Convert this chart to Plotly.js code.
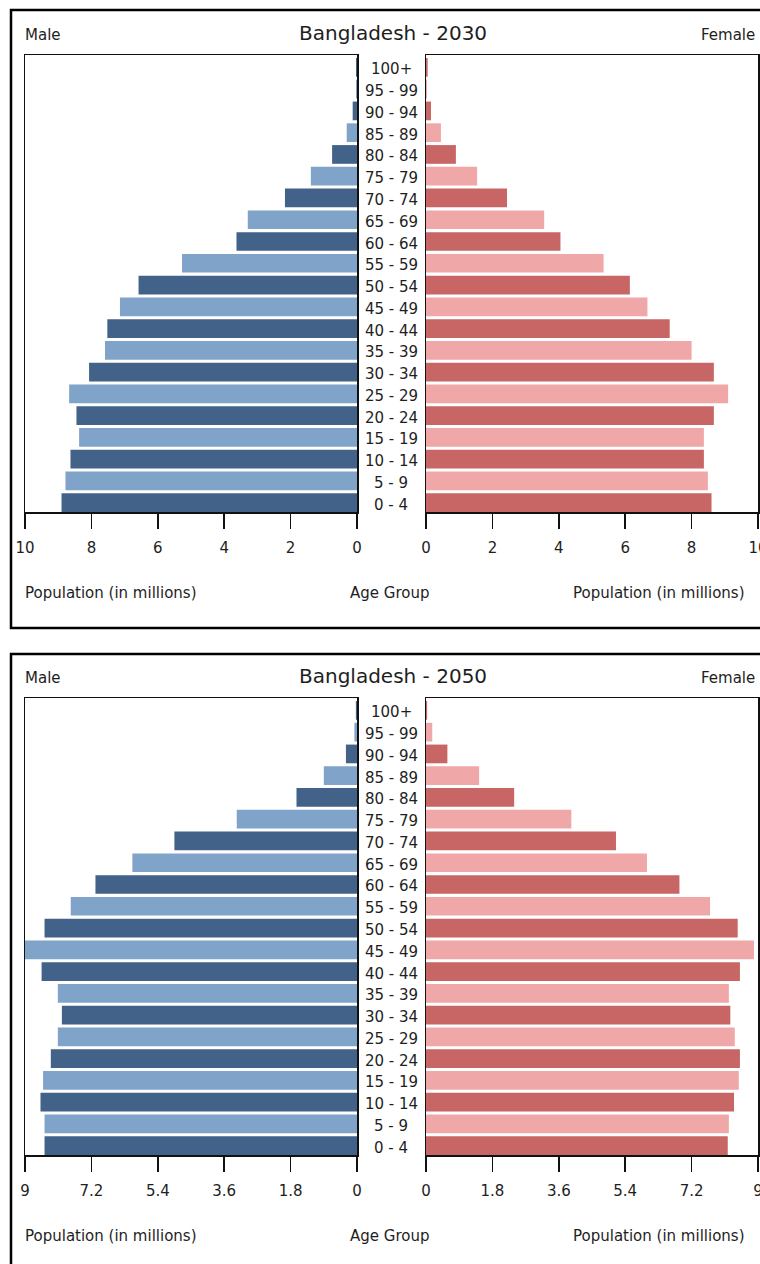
<!DOCTYPE html>
<html>
<head>
<meta charset="utf-8">
<script src="https://cdn.plot.ly/plotly-3.0.1.min.js"></script>
<style>html,body{margin:0;padding:0;background:#fff;}#chart{width:760px;height:1264px;}</style>
</head>
<body>
<div id="chart"></div>
<script>
// ---- Data (population in millions) ----
const ageGroups = ["0 - 4","5 - 9","10 - 14","15 - 19","20 - 24","25 - 29","30 - 34","35 - 39","40 - 44","45 - 49","50 - 54","55 - 59","60 - 64","65 - 69","70 - 74","75 - 79","80 - 84","85 - 89","90 - 94","95 - 99","100+"];
const male2030   = [8.90, 8.78, 8.63, 8.37, 8.45, 8.67, 8.07, 7.59, 7.52, 7.14, 6.58, 5.27, 3.63, 3.29, 2.17, 1.39, 0.75, 0.31, 0.13, 0.03, 0.03];
const female2030 = [8.60, 8.49, 8.37, 8.37, 8.67, 9.10, 8.67, 8.00, 7.34, 6.67, 6.14, 5.35, 4.05, 3.56, 2.44, 1.54, 0.90, 0.45, 0.15, 0.03, 0.05];
const male2050   = [8.47, 8.47, 8.58, 8.51, 8.30, 8.11, 8.00, 8.11, 8.55, 9.00, 8.47, 7.76, 7.09, 6.09, 4.95, 3.26, 1.64, 0.90, 0.30, 0.07, 0.03];
const female2050 = [8.18, 8.21, 8.35, 8.48, 8.51, 8.37, 8.25, 8.21, 8.51, 8.89, 8.45, 7.70, 6.87, 5.99, 5.15, 3.94, 2.39, 1.44, 0.58, 0.17, 0.03];
const ticks2030 = [0, 2, 4, 6, 8, 10];
const tickText2030 = ["0", "2", "4", "6", "8", "10"];
const ticks2050 = [0, 1.8, 3.6, 5.4, 7.2, 9];
const tickText2050 = ["0", "1.8", "3.6", "5.4", "7.2", "9"];
const titles = ["Bangladesh - 2030", "Bangladesh - 2050"];

// ---- Styling ----
const W = 760, H = 1264;
const px = x => x / W;
const py = y => 1 - y / H;
const FONT = "DejaVu Sans";
const TXT = "#1e1e1e";
const maleDark = "#436289", maleLight = "#7fa3c9";
const femDark = "#c86565", femLight = "#f0a7a7";
const maleColors = ageGroups.map((_, i) => i % 2 === 0 ? maleDark : maleLight);
const femColors = ageGroups.map((_, i) => i % 2 === 0 ? femDark : femLight);

function bar(x, colors, xa, ya) {
  return {type: "bar", orientation: "h", y: ageGroups, x: x, xaxis: xa, yaxis: ya,
          marker: {color: colors, line: {width: 0}}, hoverinfo: "none", showlegend: false};
}
const data = [
  bar(male2030, maleColors, "x", "y"),
  bar(female2030, femColors, "x2", "y2"),
  bar(male2050, maleColors, "x3", "y3"),
  bar(female2050, femColors, "x4", "y4")
];

const panelOffset = 643;
const leftDom = [px(25), px(357)];
const rightDom = [px(426), px(758)];
const yDom1 = [py(512), py(55)];
const yDom2 = [py(512 + panelOffset), py(55 + panelOffset)];

function xax(dom, range, anchor, tv, tt) {
  return {domain: dom, range: range, anchor: anchor, tickvals: tv, ticktext: tt,
          showline: true, mirror: true, linecolor: "#111", linewidth: 1.5,
          ticks: "outside", ticklen: 15, tickwidth: 1.5, tickcolor: "#111",
          showgrid: false, zeroline: false, fixedrange: true,
          ticklabeloverflow: "allow",
          tickfont: {family: FONT, size: 15, color: TXT}, ticklabelstandoff: 6};
}
function yax(dom, anchor) {
  return {domain: dom, anchor: anchor, type: "category", range: [-0.43, 20.57],
          showline: true, mirror: true, linecolor: "#111", linewidth: 1.5,
          showticklabels: false, ticks: "", showgrid: false, zeroline: false, fixedrange: true};
}

const annotations = [];
const shapes = [];
[0, 1].forEach(p => {
  const off = p * panelOffset;
  const yref = p === 0 ? "y" : "y3";
  annotations.push({text: titles[p], xref: "paper", yref: "paper", x: px(393), y: py(33 + off),
                    xanchor: "center", yanchor: "middle", showarrow: false,
                    font: {family: FONT, size: 20, color: TXT}});
  annotations.push({text: "Male", xref: "paper", yref: "paper", x: px(23), y: py(35 + off),
                    xanchor: "left", yanchor: "middle", showarrow: false,
                    font: {family: FONT, size: 15, color: TXT}});
  annotations.push({text: "Female", xref: "paper", yref: "paper", x: px(757), y: py(35 + off),
                    xanchor: "right", yanchor: "middle", showarrow: false,
                    font: {family: FONT, size: 15, color: TXT}});
  annotations.push({text: "Population (in millions)", xref: "paper", yref: "paper", x: px(23), y: py(593 + off),
                    xanchor: "left", yanchor: "middle", showarrow: false,
                    font: {family: FONT, size: 15, color: TXT}});
  annotations.push({text: "Population (in millions)", xref: "paper", yref: "paper", x: px(747), y: py(593 + off),
                    xanchor: "right", yanchor: "middle", showarrow: false,
                    font: {family: FONT, size: 15, color: TXT}});
  annotations.push({text: "Age Group", xref: "paper", yref: "paper", x: px(389), y: py(593 + off),
                    xanchor: "center", yanchor: "middle", showarrow: false,
                    font: {family: FONT, size: 15, color: TXT}});
  ageGroups.forEach(g => {
    annotations.push({text: g, xref: "paper", yref: yref, x: px(391), y: g, yshift: -2,
                      xanchor: "center", yanchor: "middle", showarrow: false,
                      font: {family: FONT, size: 15, color: TXT}});
  });
  shapes.push({type: "rect", xref: "paper", yref: "paper",
               x0: px(11), x1: px(800), y0: py(p === 0 ? 628 : 1300), y1: py(10 + off + (p === 1 ? 1 : 0)),
               line: {color: "#000", width: 2.5}, fillcolor: "rgba(0,0,0,0)"});
});

const layout = {
  width: W, height: H, margin: {l: 0, r: 0, t: 0, b: 0},
  paper_bgcolor: "#fff", plot_bgcolor: "#fff",
  bargap: 0.14, showlegend: false, hovermode: false,
  font: {family: FONT, color: TXT},
  xaxis: xax(leftDom, [10, 0], "y", ticks2030, tickText2030),
  xaxis2: xax(rightDom, [0, 10], "y2", ticks2030, tickText2030),
  xaxis3: xax(leftDom, [9, 0], "y3", ticks2050, tickText2050),
  xaxis4: xax(rightDom, [0, 9], "y4", ticks2050, tickText2050),
  yaxis: yax(yDom1, "x"),
  yaxis2: yax(yDom1, "x2"),
  yaxis3: yax(yDom2, "x3"),
  yaxis4: yax(yDom2, "x4"),
  annotations: annotations,
  shapes: shapes
};

Plotly.newPlot("chart", data, layout, {displayModeBar: false, staticPlot: true});
</script>
</body>
</html>
